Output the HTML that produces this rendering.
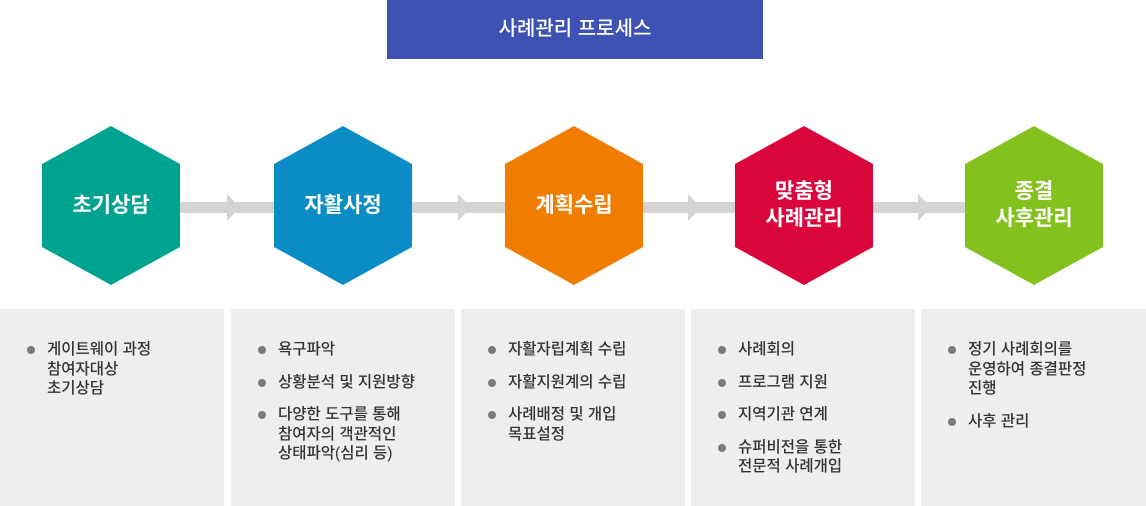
<!DOCTYPE html><html><head><meta charset="utf-8"><style>
body{margin:0;width:1146px;height:506px;position:relative;background:#fff;font-family:"Liberation Sans","Noto Sans CJK KR",sans-serif;overflow:hidden}
.t{position:absolute;left:387px;top:0;width:376px;height:59px;background:#3d52b2;color:#fff;font-size:20px;font-weight:500;line-height:59px;text-align:center}
.hl{position:absolute;color:#fff;font-size:21px;font-weight:700;text-align:center;width:140px;line-height:27px}
.p{position:absolute;top:309px;height:197px;background:#eeeeee}
.p ul{list-style:none;margin:0;padding:0;position:absolute;left:47px;top:31px;right:4px}
.p li{position:relative;font-size:15.5px;font-weight:500;line-height:19.5px;color:#333;margin-bottom:13px}
.p li:before{content:"";position:absolute;left:-20px;top:6px;width:8px;height:8px;border-radius:50%;background:#7a7a7a}
</style></head><body>
<div class="t">사례관리 프로세스</div>
<svg width="1146" height="300" style="position:absolute;left:0;top:0">
<g fill="#d4d4d4">
<rect x="180" y="202" width="95" height="11"/><polygon points="227,194 240,207.5 227,221"/>
<rect x="412" y="202" width="95" height="11"/><polygon points="458,194 471,207.5 458,221"/>
<rect x="643" y="202" width="95" height="11"/><polygon points="688,194 701,207.5 688,221"/>
<rect x="873" y="202" width="95" height="11"/><polygon points="918,194 931,207.5 918,221"/>
</g>
<polygon points="111,126 180,164 180,247 111,285 42,247 42,164" fill="#00a390"/>
<polygon points="343,126 412,164 412,247 343,285 274,247 274,164" fill="#0a8dc4"/>
<polygon points="574,126 643,164 643,247 574,285 505,247 505,164" fill="#f07d00"/>
<polygon points="804,126 873,164 873,247 804,285 735,247 735,164" fill="#d9053b"/>
<polygon points="1034,126 1103,164 1103,247 1034,285 965,247 965,164" fill="#82c11e"/>
</svg>
<div class="hl" style="left:41px;top:192px">초기상담</div>
<div class="hl" style="left:273px;top:192px">자활사정</div>
<div class="hl" style="left:504px;top:192px">계획수립</div>
<div class="hl" style="left:734px;top:178px">맞춤형<br>사례관리</div>
<div class="hl" style="left:964px;top:178px">종결<br>사후관리</div>
<div class="p" style="left:0;width:224px"><ul><li>게이트웨이 과정<br>참여자대상<br>초기상담</li></ul></div>
<div class="p" style="left:231px;width:224px"><ul><li>욕구파악</li><li>상황분석 및 지원방향</li><li>다양한 도구를 통해<br>참여자의 객관적인<br>상태파악(심리 등)</li></ul></div>
<div class="p" style="left:461px;width:224px"><ul><li>자활자립계획 수립</li><li>자활지원계의 수립</li><li>사례배정 및 개입<br>목표설정</li></ul></div>
<div class="p" style="left:691px;width:224px"><ul><li>사례회의</li><li>프로그램 지원</li><li>지역기관 연계</li><li>슈퍼비전을 통한<br>전문적 사례개입</li></ul></div>
<div class="p" style="left:921px;width:225px"><ul><li>정기 사례회의를<br>운영하여 종결판정<br>진행</li><li>사후 관리</li></ul></div>
</body></html>
